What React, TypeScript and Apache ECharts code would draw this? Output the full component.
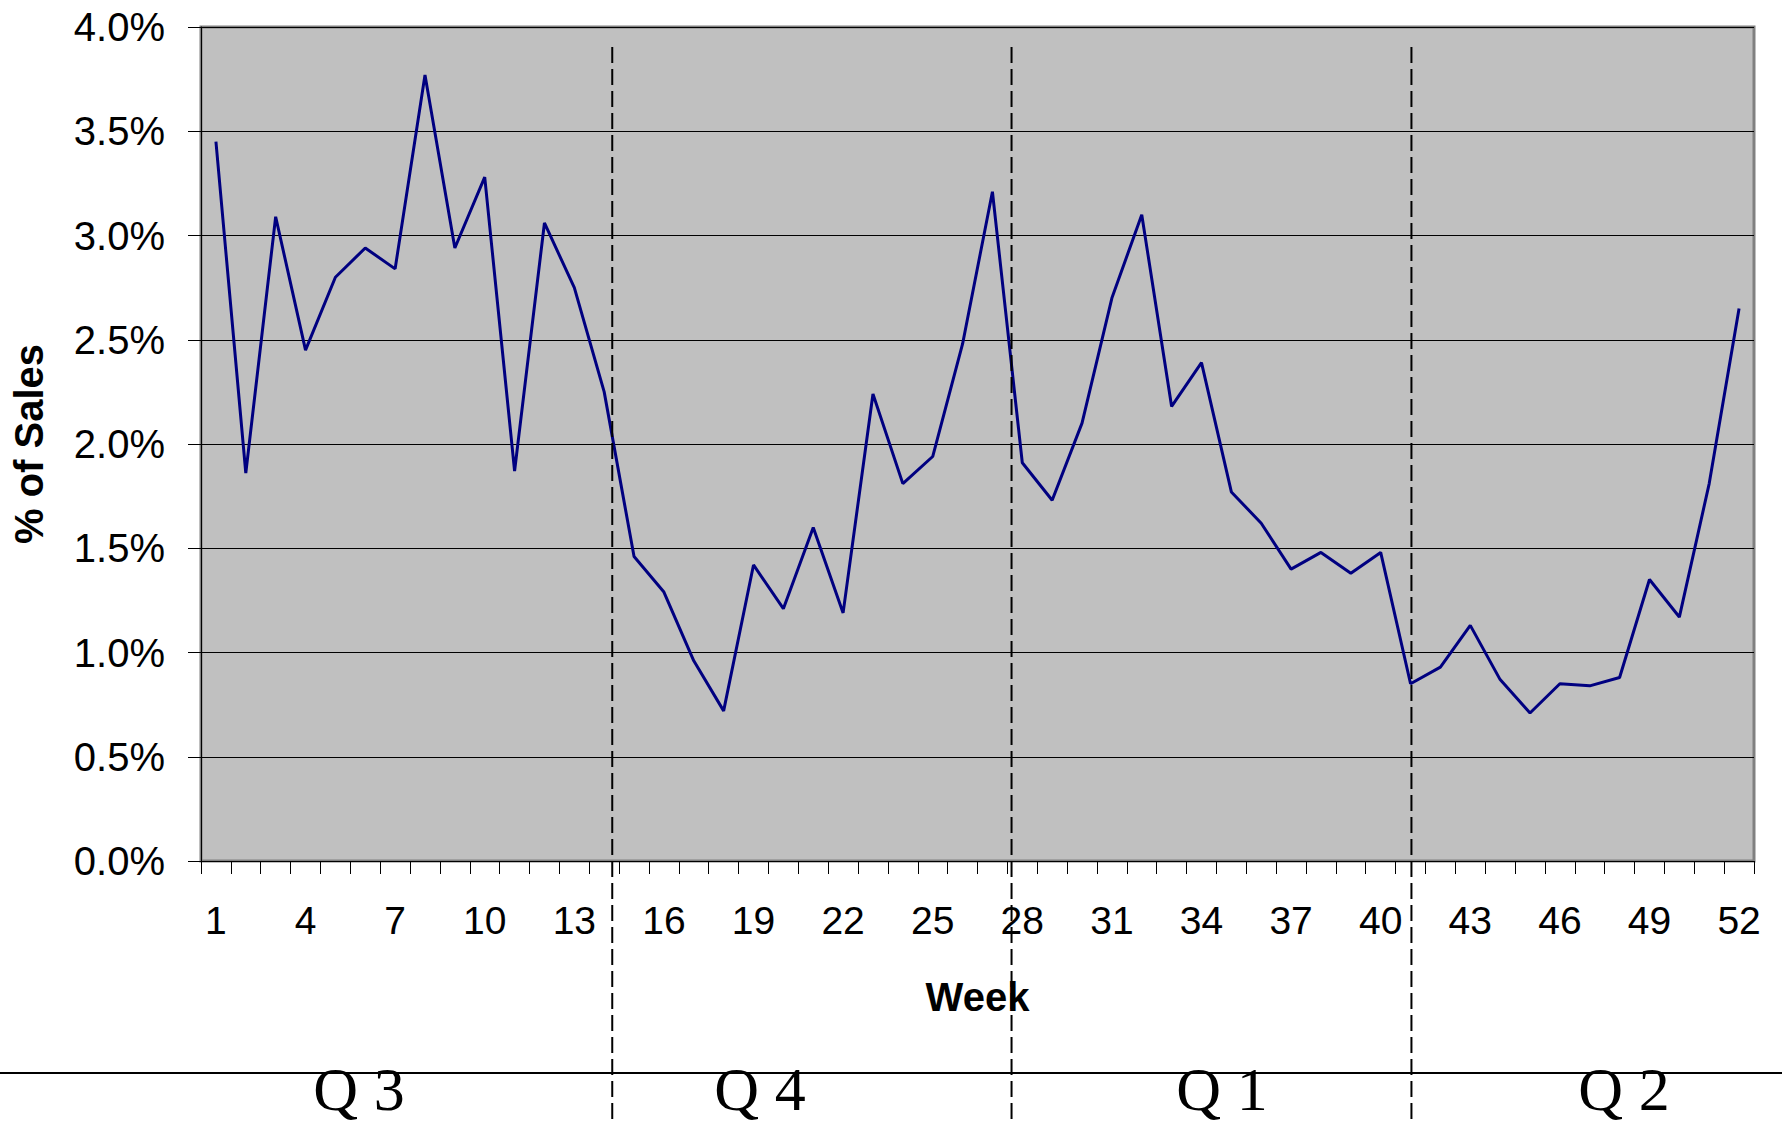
import React, { useEffect, useRef } from "react";
import * as echarts from "echarts";

const weeks: string[] = [
  "1", "2", "3", "4", "5", "6", "7", "8", "9", "10", "11", "12", "13",
  "14", "15", "16", "17", "18", "19", "20", "21", "22", "23", "24", "25", "26",
  "27", "28", "29", "30", "31", "32", "33", "34", "35", "36", "37", "38", "39",
  "40", "41", "42", "43", "44", "45", "46", "47", "48", "49", "50", "51", "52",
];

// % of sales per week
const salesPct: number[] = [
  3.45, 1.86, 3.09, 2.45, 2.80, 2.94, 2.84, 3.77, 2.94, 3.28, 1.87, 3.06, 2.75,
  2.25, 1.46, 1.29, 0.96, 0.72, 1.42, 1.21, 1.60, 1.19, 2.24, 1.81, 1.94, 2.48,
  3.21, 1.91, 1.73, 2.10, 2.70, 3.10, 2.18, 2.39, 1.77, 1.62, 1.40, 1.48, 1.38,
  1.48, 0.85, 0.93, 1.13, 0.87, 0.71, 0.85, 0.84, 0.88, 1.35, 1.17, 1.81, 2.65,
];

// quarter boundaries, in week-number units (hand-drawn in the original)
const quarterBoundaries: number[] = [14.27, 27.64, 41.03];
const quarterLabels: string[] = ["Q 3", "Q 4", "Q 1", "Q 2"];
const quarterLabelX: number[] = [359, 760, 1222, 1624];

const yTicks = { min: 0, max: 4, interval: 0.5 };

const SANS = "'Liberation Sans', Arial, sans-serif";
const SERIF = "'Liberation Serif', 'Times New Roman', serif";

export default function App() {
  const ref = useRef<HTMLDivElement>(null);

  useEffect(() => {
    if (!ref.current) return;
    const chart = echarts.init(ref.current, undefined, { renderer: "svg" });
    const option: any = {
      animation: false,
      backgroundColor: "#ffffff",
      textStyle: { fontFamily: SANS },
      grid: {
        left: 201,
        top: 27,
        right: 28,
        bottom: 264,
        show: true,
        backgroundColor: "#C0C0C0",
        borderColor: "#808080",
        borderWidth: 3,
        containLabel: false,
      },
      xAxis: {
        type: "category",
        data: weeks,
        boundaryGap: true,
        axisLine: { show: true, lineStyle: { color: "#000", width: 1 } },
        axisTick: {
          show: true,
          interval: 0,
          length: 13,
          inside: false,
          lineStyle: { color: "#000", width: 1 },
        },
        axisLabel: {
          interval: 2,
          fontSize: 39,
          margin: 40,
          color: "#000",
          fontFamily: SANS,
        },
        splitLine: { show: false },
        name: "Week",
        nameLocation: "middle",
        nameGap: 116,
        nameTextStyle: {
          fontSize: 40,
          fontWeight: "bold",
          color: "#000",
          fontFamily: SANS,
        },
      },
      yAxis: {
        type: "value",
        min: yTicks.min,
        max: yTicks.max,
        interval: yTicks.interval,
        axisLine: { show: true, lineStyle: { color: "#000", width: 1 } },
        axisTick: {
          show: true,
          length: 13,
          inside: false,
          lineStyle: { color: "#000", width: 1 },
        },
        axisLabel: {
          fontSize: 40,
          margin: 36,
          color: "#000",
          fontFamily: SANS,
          padding: [0, 0, 6, 0],
          formatter: (v: number) => v.toFixed(1) + "%",
        },
        splitLine: { show: true, lineStyle: { color: "#000", width: 1 } },
        name: "% of Sales",
        nameLocation: "middle",
        nameGap: 152,
        nameRotate: 90,
        nameTextStyle: {
          fontSize: 40,
          fontWeight: "bold",
          color: "#000",
          fontFamily: SANS,
        },
      },
      series: [
        {
          type: "line",
          data: salesPct,
          symbol: "none",
          showSymbol: false,
          lineStyle: { color: "#000080", width: 3 },
          z: 5,
        },
      ],
    };
    chart.setOption(option);

    const p1 = chart.convertToPixel({ xAxisIndex: 0 }, weeks[0]) as number;
    const pN = chart.convertToPixel({ xAxisIndex: 0 }, weeks[weeks.length - 1]) as number;
    const step = (pN - p1) / (weeks.length - 1);
    const graphics: any[] = [];
    quarterBoundaries.forEach((w) => {
      const x = p1 + (w - 1) * step;
      graphics.push({
        type: "line",
        z: 100,
        shape: { x1: x, y1: 47, x2: x, y2: 1125 },
        style: { stroke: "#000", lineWidth: 2, lineDash: [16, 6] },
      });
    });
    graphics.push({
      type: "line",
      z: 90,
      shape: { x1: 0, y1: 1073, x2: 1782, y2: 1073 },
      style: { stroke: "#000", lineWidth: 2 },
    });
    quarterLabels.forEach((t, i) => {
      graphics.push({
        type: "text",
        z: 95,
        x: quarterLabelX[i],
        y: 1089,
        style: {
          text: t,
          fill: "#000",
          font: `62px ${SERIF}`,
          align: "center",
          verticalAlign: "middle",
        },
      });
    });
    chart.setOption({ graphic: graphics });

    return () => chart.dispose();
  }, []);

  return (
    <div
      ref={ref}
      style={{ position: "fixed", left: 0, top: 0, width: 1782, height: 1125 }}
    />
  );
}
